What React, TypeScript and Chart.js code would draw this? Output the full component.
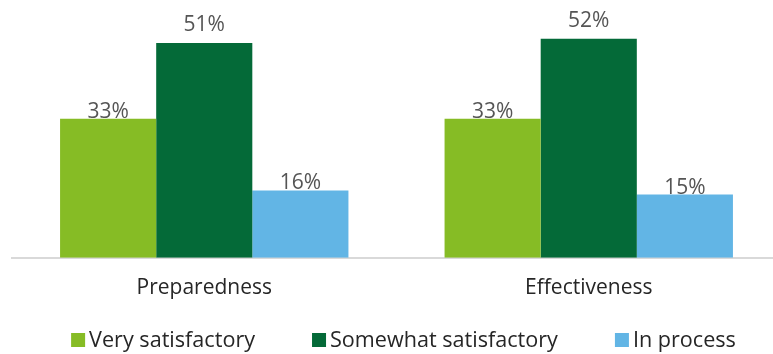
import React, { useEffect, useRef } from "react";
import { Chart, registerables } from "chart.js";

Chart.register(...registerables);

const categories = ["Preparedness", "Effectiveness"];
const seriesNames = ["Very satisfactory", "Somewhat satisfactory", "In process"];
const verySatisfactory = [33, 33];
const somewhatSatisfactory = [51, 52];
const inProcess = [16, 15];
const seriesColors = ["#86BC25", "#046A38", "#62B5E5"];
const labelOffsets = [1, 12, 1];

const FONT = '"Open Sans", sans-serif';

const valueLabelPlugin = {
  id: "valueLabels",
  afterDatasetsDraw(chart: any) {
    const ctx = chart.ctx;
    ctx.save();
    ctx.font = `21px ${FONT}`;
    ctx.fillStyle = "#555555";
    ctx.textAlign = "center";
    ctx.textBaseline = "alphabetic";
    chart.data.datasets.forEach((ds: any, i: number) => {
      const meta = chart.getDatasetMeta(i);
      meta.data.forEach((bar: any, j: number) => {
        ctx.fillText(`${ds.data[j]}%`, bar.x, bar.y - labelOffsets[i]);
      });
    });
    ctx.restore();
  },
};

const customLegendPlugin = {
  id: "customLegend",
  afterDraw(chart: any) {
    const ctx = chart.ctx;
    ctx.save();
    ctx.font = `21.6px ${FONT}`;
    ctx.textBaseline = "middle";
    ctx.textAlign = "left";
    const box = 14;
    const gapBoxText = 4;
    const gapItems = 57;
    const items = chart.data.datasets.map((ds: any) => ({
      text: ds.label,
      color: ds.backgroundColor,
      w: ctx.measureText(ds.label).width,
    }));
    const total =
      items.reduce((s: number, it: any) => s + box + gapBoxText + it.w, 0) +
      gapItems * (items.length - 1);
    const center = 403.5;
    let x = center - total / 2;
    const yc = 340;
    items.forEach((it: any) => {
      ctx.fillStyle = it.color;
      ctx.fillRect(x, yc - box / 2, box, box);
      x += box + gapBoxText;
      ctx.fillStyle = "#262626";
      ctx.fillText(it.text, x, yc + 1);
      x += it.w + gapItems;
    });
    ctx.restore();
  },
};

export default function App() {
  const canvasRef = useRef<HTMLCanvasElement>(null);

  useEffect(() => {
    if (!canvasRef.current) return;
    const chart = new Chart(canvasRef.current, {
      type: "bar",
      data: {
        labels: categories,
        datasets: [
          { label: seriesNames[0], data: verySatisfactory, backgroundColor: seriesColors[0] },
          { label: seriesNames[1], data: somewhatSatisfactory, backgroundColor: seriesColors[1] },
          { label: seriesNames[2], data: inProcess, backgroundColor: seriesColors[2] },
        ],
      },
      options: {
        animation: false,
        responsive: false,
        maintainAspectRatio: false,
        layout: { padding: { left: 12, right: 9, top: 5, bottom: 35 } },
        datasets: {
          bar: { categoryPercentage: 0.75, barPercentage: 1.0, borderWidth: 0 },
        },
        plugins: {
          legend: { display: false },
          tooltip: { enabled: false },
        },
        scales: {
          x: {
            grid: { display: false, drawTicks: false },
            border: { display: true, color: "#d9d9d9", width: 2 },
            ticks: {
              padding: 18,
              color: "#262626",
              font: { family: FONT, size: 21 },
            },
          },
          y: {
            display: false,
            min: 0,
            max: 60,
          },
        },
      },
      plugins: [valueLabelPlugin, customLegendPlugin],
    });
    return () => chart.destroy();
  }, []);

  return (
    <div
      style={{
        position: "fixed",
        left: 0,
        top: 0,
        width: 773,
        height: 354,
        overflow: "hidden",
        background: "#ffffff",
      }}
    >
      <canvas ref={canvasRef} width={790} height={354} style={{ display: "block" }} />
    </div>
  );
}
